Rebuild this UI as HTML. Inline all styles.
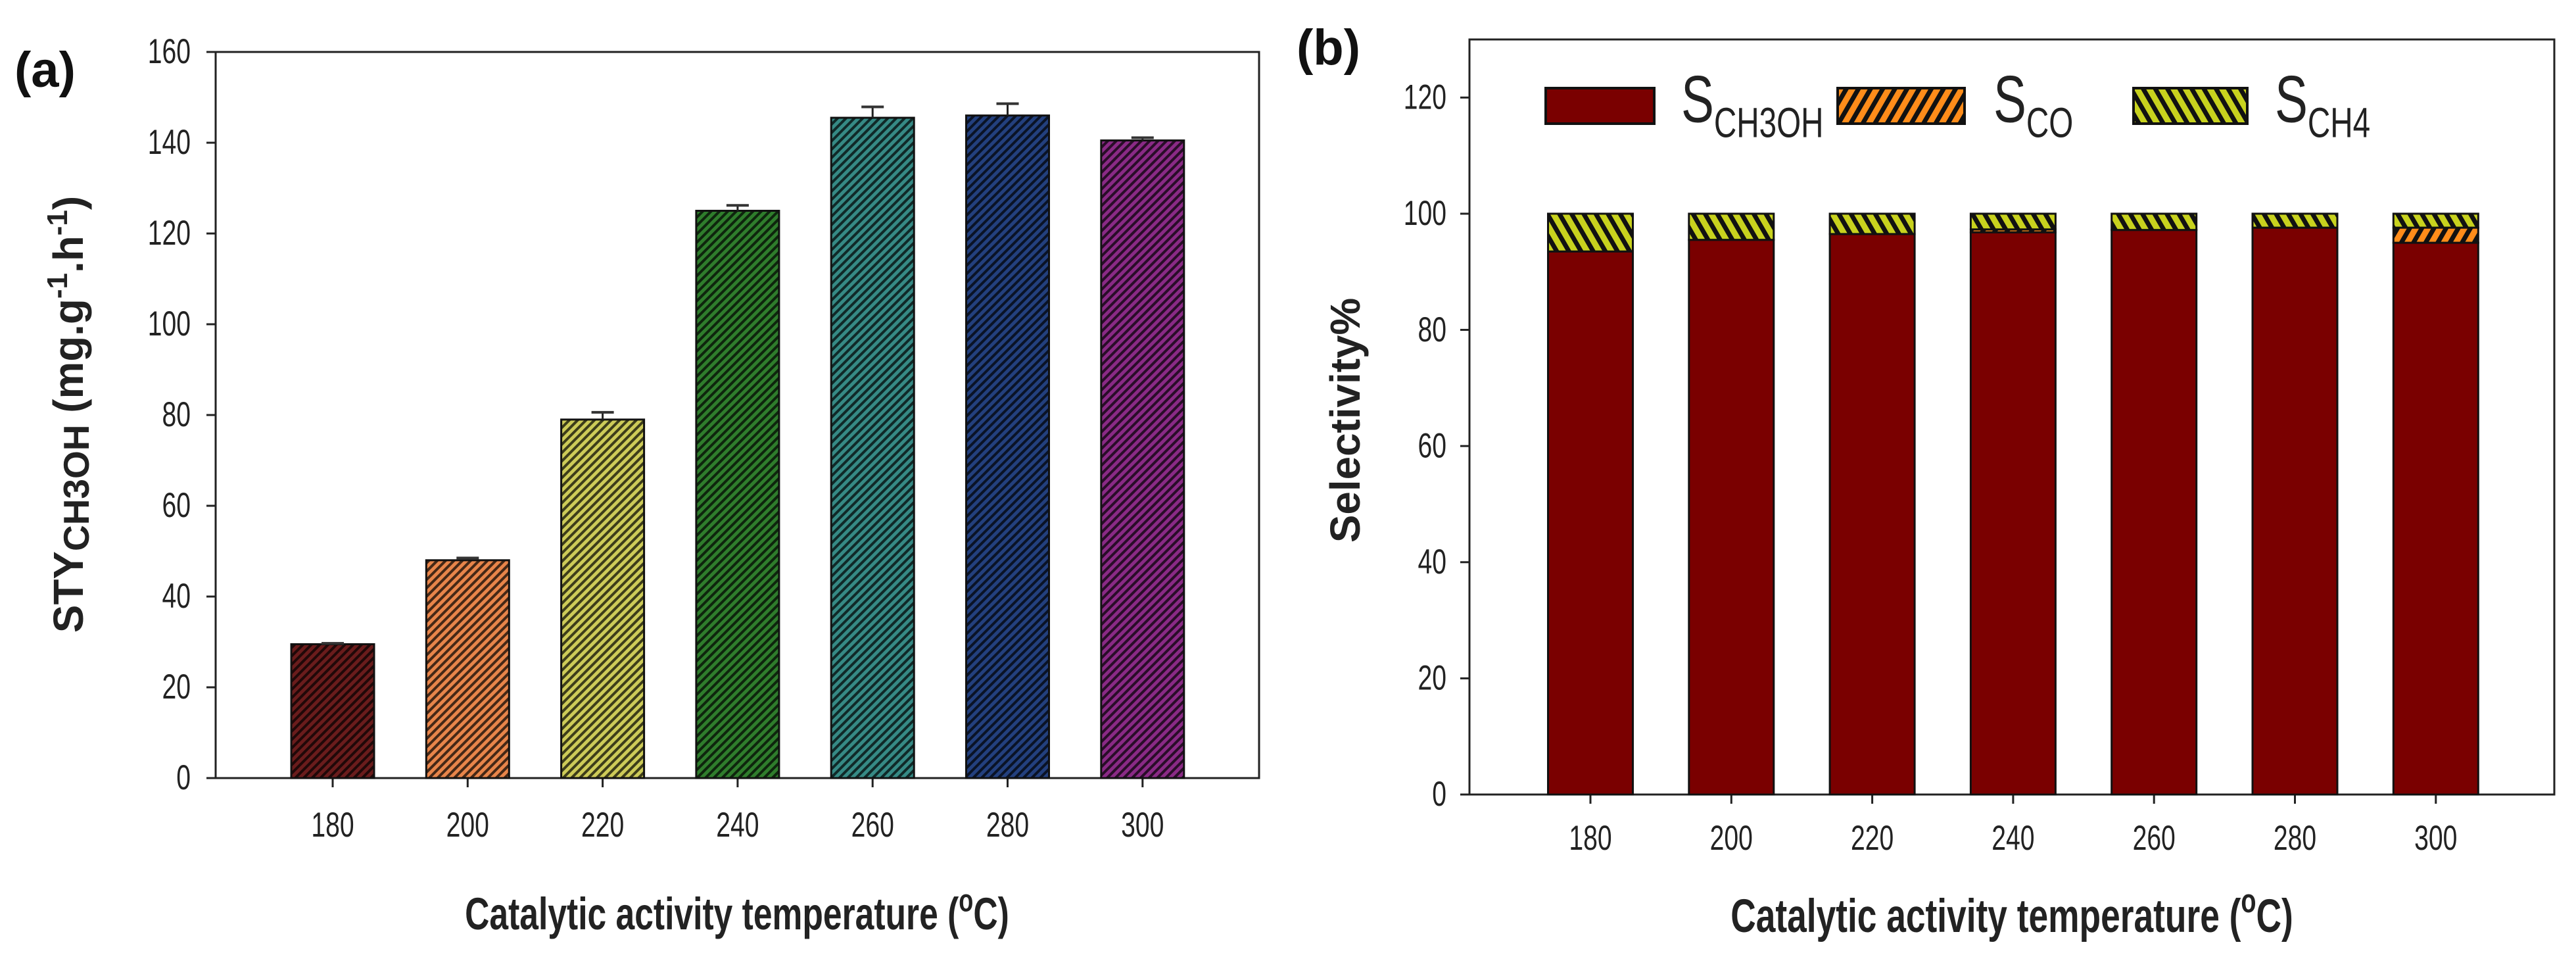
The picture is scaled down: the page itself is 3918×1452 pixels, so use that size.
<!DOCTYPE html>
<html><head><meta charset="utf-8"><style>
html,body{margin:0;padding:0;background:#fff;}
svg{display:block;font-family:"Liberation Sans",Arial,sans-serif;}
</style></head><body>
<svg id="fig" width="3918" height="1452" viewBox="0 0 3918 1452" xmlns="http://www.w3.org/2000/svg">
<defs>
<pattern id="hatchA" patternUnits="userSpaceOnUse" width="9" height="9" patternTransform="rotate(45)">
<rect width="9" height="9" fill="transparent"/><rect x="0" y="0" width="4" height="9" fill="#000" fill-opacity="0.7"/>
</pattern>
<pattern id="hatchCO" patternUnits="userSpaceOnUse" width="16" height="16" patternTransform="rotate(30)">
<rect width="16" height="16" fill="#ff8c1a"/><rect x="0" y="0" width="7" height="16" fill="#111"/>
</pattern>
<pattern id="hatchCH4" patternUnits="userSpaceOnUse" width="16" height="16" patternTransform="rotate(-30)">
<rect width="16" height="16" fill="#c8d21e"/><rect x="0" y="0" width="7" height="16" fill="#111"/>
</pattern>
</defs>
<g id="pa"></g>
<g id="pb"></g>
</svg>
<script>
const categories = ["180","200","220","240","260","280","300"];
const styValues = [29.5, 48, 79, 125, 145.5, 146, 140.5];
const styErrors = [0.2, 0.5, 1.6, 1.2, 2.4, 2.6, 0.6];
const styColors = ["#6a1c1c","#e8854a","#cdcb58","#2f7d2c","#368a85","#23407e","#8a2a86"];
const yTicksA = [0,20,40,60,80,100,120,140,160];
const sCH3OH = [93.5, 95.5, 96.5, 96.8, 97.2, 97.6, 95.0];
const sCO = [0, 0, 0, 0.5, 0, 0, 2.6];
const sCH4 = [6.5, 4.5, 3.5, 2.7, 2.8, 2.4, 2.4];
const yTicksB = [0,20,40,60,80,100,120];

const NS="http://www.w3.org/2000/svg";
function mk(parent,tag,attrs,text){const e=document.createElementNS(NS,tag);for(const k in attrs)e.setAttribute(k,attrs[k]);if(text!==undefined)e.textContent=text;parent.appendChild(e);return e;}

// Panel A
(function(){
const g=document.getElementById('pa');
const L=328,R=1915,T=79,B=1183,yMax=160;
const y=v=>B-(v/yMax)*(B-T);
const x0=506,dx=205.3,bw=126;
const x=i=>x0+i*dx;
let r=mk(g,'rect',{x:L,y:T,width:R-L,height:B-T,fill:'none',stroke:'#222','stroke-width':3});

yTicksA.forEach(t=>{
 let l=mk(g,'line',{x1:L-14,x2:L,y1:y(t),y2:y(t),stroke:'#222','stroke-width':3});
 
 let tx=mk(g,'text',{x:290,y:y(t)+15,'text-anchor':'end','font-size':46,fill:'#222',transform:`translate(290 ${y(t)}) scale(0.85 1.15) translate(-290 ${-y(t)})`},String(t));
 
});
categories.forEach((c,i)=>{
 let l=mk(g,'line',{x1:x(i),x2:x(i),y1:B,y2:B+14,stroke:'#222','stroke-width':3});
 
 let tx=mk(g,'text',{x:x(i),y:1270,'text-anchor':'middle','font-size':46,fill:'#222',transform:`translate(${x(i)} 1255) scale(0.85 1.15) translate(${-x(i)} -1255)`},c);
 
 const top=y(styValues[i]);
 let b=mk(g,'rect',{x:x(i)-bw/2,y:top,width:bw,height:B-top,fill:styColors[i]});
 
 let h=mk(g,'rect',{x:x(i)-bw/2,y:top,width:bw,height:B-top,fill:'url(#hatchA)',stroke:'#111','stroke-width':3});
 
 const et=y(styValues[i]+styErrors[i]);
 let e1=mk(g,'line',{x1:x(i),x2:x(i),y1:top,y2:et,stroke:'#222','stroke-width':3});
 
 let e2=mk(g,'line',{x1:x(i)-17,x2:x(i)+17,y1:et,y2:et,stroke:'#333','stroke-width':4});
 
});
let xt=mk(g,'text',{x:1121,y:1410,'text-anchor':'middle','font-size':60,'font-weight':'bold',fill:'#222',transform:'translate(1121 1390) scale(0.86 1.15) translate(-1121 -1390)'});
xt.innerHTML='Catalytic activity temperature (<tspan dy="-24" font-size="42">o</tspan><tspan dy="24">C)</tspan>';

let yt=mk(g,'text',{x:0,y:0,'text-anchor':'middle','font-size':58,'font-weight':'bold',fill:'#222',transform:'translate(126 630) rotate(-90) scale(1.1 1.1)'});
yt.innerHTML='STY<tspan font-size="50" dy="8">CH3OH</tspan><tspan dy="-8"> (mg.g</tspan><tspan dy="-22" font-size="40">-1</tspan><tspan dy="22">.h</tspan><tspan dy="-22" font-size="40">-1</tspan><tspan dy="22">)</tspan>';

let lab=mk(g,'text',{x:22,y:132,'font-size':76,'font-weight':'bold',fill:'#111'},'(a)');

})();

// Panel B
(function(){
const g=document.getElementById('pb');
const L=2235,R=3885,T=60,B=1208,yMax=130;
const y=v=>B-(v/yMax)*(B-T);
const x0=2419,dx=214.3,bw=129;
const x=i=>x0+i*dx;
let r=mk(g,'rect',{x:L,y:T,width:R-L,height:B-T,fill:'none',stroke:'#222','stroke-width':3});

yTicksB.forEach(t=>{
 let l=mk(g,'line',{x1:L-14,x2:L,y1:y(t),y2:y(t),stroke:'#222','stroke-width':3});
 
 let tx=mk(g,'text',{x:2200,y:y(t)+15,'text-anchor':'end','font-size':46,fill:'#222',transform:`translate(2200 ${y(t)}) scale(0.85 1.15) translate(-2200 ${-y(t)})`},String(t));
 
});
categories.forEach((c,i)=>{
 let l=mk(g,'line',{x1:x(i),x2:x(i),y1:B,y2:B+14,stroke:'#222','stroke-width':3});
 
 let tx=mk(g,'text',{x:x(i),y:1290,'text-anchor':'middle','font-size':46,fill:'#222',transform:`translate(${x(i)} 1275) scale(0.85 1.15) translate(${-x(i)} -1275)`},c);
 
 const v1=sCH3OH[i],v2=v1+sCO[i],v3=v2+sCH4[i];
 let b1=mk(g,'rect',{x:x(i)-bw/2,y:y(v1),width:bw,height:B-y(v1),fill:'#7a0000',stroke:'#111','stroke-width':3});
 
 if(sCO[i]>0){let b2=mk(g,'rect',{x:x(i)-bw/2,y:y(v2),width:bw,height:y(v1)-y(v2),fill:'url(#hatchCO)',stroke:'#111','stroke-width':3});
 }
 let b3=mk(g,'rect',{x:x(i)-bw/2,y:y(v3),width:bw,height:y(v2)-y(v3),fill:'url(#hatchCH4)',stroke:'#111','stroke-width':3});
 
});
const leg=[['#7a0000',2351,2516,2557,'CH3OH'],['url(#hatchCO)',2795,2988,3032,'CO'],['url(#hatchCH4)',3245,3418,3460,'CH4']];
leg.forEach(d=>{
 let s=mk(g,'rect',{x:d[1],y:134,width:d[2]-d[1],height:54,fill:d[0],stroke:'#111','stroke-width':4});
 
 let t=mk(g,'text',{x:d[3],y:182,'font-size':88,fill:'#222',transform:`translate(${d[3]} 160) scale(0.85 1.15) translate(${-d[3]} -160)`});
 t.innerHTML='S<tspan font-size="56" dy="20">'+d[4]+'</tspan>';
 
});
let xt=mk(g,'text',{x:3060,y:1414,'text-anchor':'middle','font-size':62,'font-weight':'bold',fill:'#222',transform:'translate(3060 1394) scale(0.86 1.15) translate(-3060 -1394)'});
xt.innerHTML='Catalytic activity temperature (<tspan dy="-26" font-size="44">o</tspan><tspan dy="26">C)</tspan>';

let yt=mk(g,'text',{x:0,y:0,'text-anchor':'middle','font-size':58,'font-weight':'bold',fill:'#222',transform:'translate(2068 639) rotate(-90) scale(1.1 1.1)'},'Selectivity%');

let lab=mk(g,'text',{x:1972,y:98,'font-size':76,'font-weight':'bold',fill:'#111'},'(b)');

})();
</script>
</body></html>
